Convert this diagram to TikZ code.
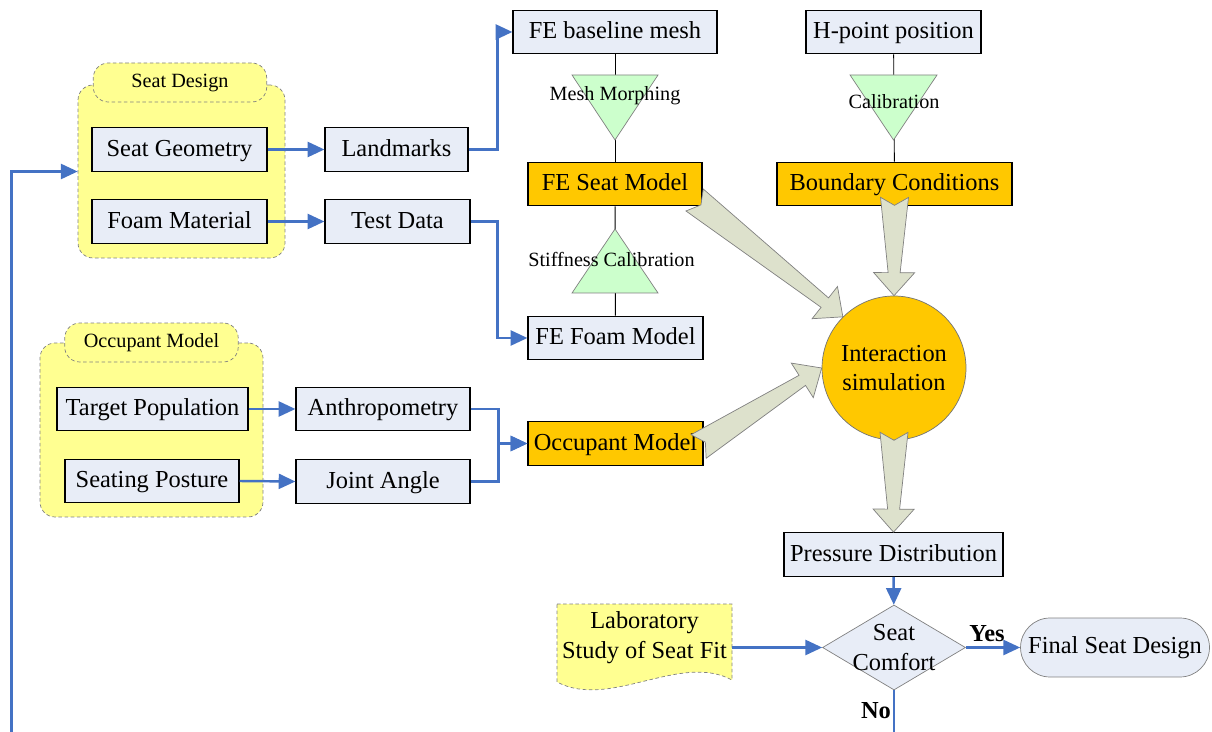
\documentclass[tikz,border=0pt]{standalone}
\usepackage{fontspec}
\setmainfont{Liberation Serif}
\usetikzlibrary{shapes.geometric,arrows.meta,calc}

\definecolor{boxblue}{RGB}{232,237,247}
\definecolor{hotorange}{RGB}{255,200,0}
\definecolor{grpyellow}{RGB}{255,255,145}
\definecolor{trigreen}{RGB}{204,255,204}
\definecolor{arrowgray}{RGB}{221,225,204}
\definecolor{flowblue}{RGB}{68,114,196}

\tikzset{
  txt/.style={font=\fontsize{13.9}{17}\selectfont},
  small/.style={font=\fontsize{11.5}{13}\selectfont},
  box/.style={txt, draw=black, line width=0.7pt, fill=boxblue, minimum height=0.87cm, inner sep=2pt,
    text height=10pt, text depth=2.5pt},
  hotbox/.style={box, fill=hotorange},
  grp/.style={draw=gray, dash pattern=on 2pt off 1.5pt, line width=0.4pt, fill=grpyellow, rounded corners=0.3cm},
  grptab/.style={grp, small, minimum width=3.47cm, minimum height=0.78cm},
  flow/.style={draw=flowblue, line width=1.4pt, -{Triangle[length=9.5pt,width=8.5pt]}},
  tri/.style={draw=gray, fill=trigreen, line width=0.4pt},
  link/.style={draw=black, line width=0.5pt},
  fatarr/.style={draw=gray, fill=arrowgray, line width=0.4pt},
}

% tapered arrow with notched tail, from #1 to #2
\newcommand{\fatarrow}[2]{%
  \coordinate (fa-t) at (#1);
  \coordinate (fa-h) at (#2);
  \coordinate (fa-b) at ($(fa-h)!0.46cm!(fa-t)$);
  \filldraw[fatarr] ($(fa-t)!0.28cm!90:(fa-h)$) -- ($(fa-t)!0.16cm!(fa-h)$)
    -- ($(fa-t)!0.28cm!-90:(fa-h)$) -- ($(fa-b)!0.12cm!90:(fa-t)$)
    -- ($(fa-b)!0.41cm!90:(fa-t)$) -- (fa-h) -- ($(fa-b)!0.41cm!-90:(fa-t)$)
    -- ($(fa-b)!0.12cm!-90:(fa-t)$) -- cycle;
}

\begin{document}
\begin{tikzpicture}[x=0.02cm, y=-0.02cm]
  \useasboundingbox (0,0) rectangle (1212,732);

  % Groups
  \node[grp, minimum width=4.14cm, minimum height=3.46cm] (seatgrp) at (181.5,171.5) {};
  \node[grptab] (seattab) at (180,82.5) {Seat Design};
  \node[grp, minimum width=4.46cm, minimum height=3.48cm] (occgrp) at (151.5,430) {};
  \node[grptab] (occtab) at (151.5,342.5) {Occupant Model};

  % Nodes
  \node[box, minimum width=3.5cm] (seatgeo) at (179.5,149.5) {Seat Geometry};
  \node[box, minimum width=3.5cm] (foam) at (179.5,221.5) {Foam Material};
  \node[box, minimum width=2.86cm] (landmarks) at (396.5,149.5) {Landmarks};
  \node[box, minimum width=2.9cm] (testdata) at (397.5,221.5) {Test Data};
  \node[box, minimum width=3.82cm] (target) at (152.5,409) {Target Population};
  \node[box, minimum width=3.48cm] (posture) at (152,481) {Seating Posture};
  \node[box, minimum width=3.48cm] (anthro) at (383,409) {Anthropometry};
  \node[box, minimum width=3.48cm] (joint) at (383,481.5) {Joint Angle};

  \node[box, minimum width=4.08cm] (basemesh) at (615,32) {FE baseline mesh};
  \node[hotbox, minimum width=3.48cm] (seatmodel) at (615,184) {FE Seat Model};
  \node[box, minimum width=3.5cm] (foammodel) at (615.5,338) {FE Foam Model};
  \node[hotbox, minimum width=3.5cm] (occmodel) at (615.5,443.5) {Occupant Model};
  \node[box, minimum width=3.5cm] (hpoint) at (893.5,32) {H-point position};
  \node[hotbox, minimum width=4.7cm] (boundary) at (894.5,184) {Boundary Conditions};

  \node[txt, circle, draw=black!55, line width=0.4pt, fill=hotorange, minimum size=2.88cm,
        inner sep=0pt, align=center] (sim) at (894,368) {Interaction\\simulation};
  \node[box, minimum width=4.38cm] (pressure) at (893.5,554.5) {Pressure Distribution};
  \node[diamond, draw=gray, line width=0.4pt, fill=boxblue, minimum width=2.86cm,
        minimum height=1.7cm, inner sep=0pt,
        label={[txt, align=center]center:Seat\\Comfort}] (dia) at (894,647.5) {};
  \node[txt, draw=gray, line width=0.4pt, fill=boxblue, rounded corners=0.59cm,
        minimum width=3.78cm, minimum height=1.18cm] (final) at (1115,647.5) {Final Seat Design};

  % document shape
  \filldraw[grp, rounded corners=0pt] (557,604) -- (732,604) -- (732,680)
    .. controls (680,652) and (610,710) .. (557,682) -- cycle;
  \node[txt, align=center, minimum width=3.5cm, inner sep=0pt] (lab) at (644.5,638)
    {Laboratory\\Study of Seat Fit};

  % Edges
  \draw[link] (basemesh) -- (seatmodel);
  \draw[link] (seatmodel) -- (foammodel);
  \draw[link] (hpoint) -- (boundary);

  \draw[flow] (seatgeo) -- (landmarks);
  \draw[flow] (foam) -- (testdata);
  \draw[flow] (landmarks.east) -- ++(29,0) |- (basemesh.west);
  \draw[flow] (testdata.east) -- ++(27,0) |- (foammodel.west);
  \draw[flow] (target.east) -- (anthro.west);
  \draw[flow] (posture.east) -- (joint.west);
  \draw[flow] (anthro.east) -- ++(28,0) |- (occmodel.west);
  \draw[flow] (joint.east) -- ++(28,0) |- (occmodel.west);
  \draw[flow] (pressure) -- (dia);
  \draw[flow] (lab.east |- dia.west) -- (dia.west);
  \draw[flow] (dia.east) -- (final.west);
  \draw[flow] (dia.south) -- ++(0,60) -| ($(seatgrp.west)+(-66,0)$) -- (seatgrp.west);

  \node[txt, font=\fontsize{13.9}{17}\bfseries] (yes) at (987,634) {Yes};
  \node[txt, font=\fontsize{13.9}{17}\bfseries] (no) at (876,711) {No};

  % Calibration steps
  \filldraw[tri] (572,75) -- (658,75) -- (615,140) -- cycle;
  \node[small, inner sep=0pt] (morph) at (615,96) {Mesh Morphing};
  \filldraw[tri] (572,293) -- (658,293) -- (615,229) -- cycle;
  \node[small, inner sep=0pt] (stiff) at (611.5,259) {Stiffness Calibration};
  \filldraw[tri] (850,75) -- (937,75) -- (893.5,140) -- cycle;
  \node[small, inner sep=0pt] (calib) at (894,102) {Calibration};

  % Inputs to the simulation
  \fatarrow{$(seatmodel.east)+(-8,16)$}{sim.north west}
  \fatarrow{$(boundary.south)+(0,-9)$}{sim.north}
  \fatarrow{$(occmodel.east)+(-5,3)$}{sim.west}
  \fatarrow{$(sim.south)+(0,-8)$}{pressure.north}
\end{tikzpicture}
\end{document}
